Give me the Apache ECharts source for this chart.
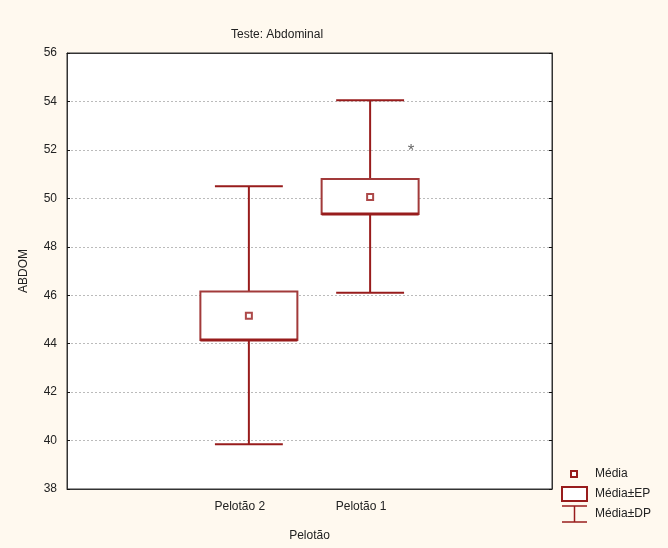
<!DOCTYPE html>
<html>
<head>
<meta charset="utf-8">
<script src="https://cdn.jsdelivr.net/npm/echarts@6/dist/echarts.min.js"></script>
<style>
  html, body { margin: 0; padding: 0; background: #fff9ef; }
  #chart { width: 668px; height: 548px; }
</style>
</head>
<body>
<div id="chart"></div>
<script>
  // categories (empty slots on the sides, like the original frame)
  var categories = ['', 'Pelotão 2', 'Pelotão 1', ''];
  var groups = ['Pelotão 2', 'Pelotão 1'];
  var means = [45.15, 50.05];
  var epLow = [44.15, 49.35];
  var epHigh = [46.15, 50.8];
  var dpLow = [39.85, 46.1];
  var dpHigh = [50.5, 54.05];
  var outlier = [['Pelotão 1', 52.15]];

  var red = '#981c1c';

  var boxData = groups.map(function (g, i) {
    return [g, epLow[i], epHigh[i], dpLow[i], dpHigh[i]];
  });
  var meanData = groups.map(function (g, i) { return [g, means[i]]; });

  var chart = echarts.init(document.getElementById('chart'));

  var tickStyle = { show: true, inside: true, length: 3, lineStyle: { color: '#111' } };

  chart.setOption({
    backgroundColor: '#fff9ef',
    textStyle: { fontFamily: 'Liberation Sans, Arial, sans-serif' },
    animation: false,
    title: {
      text: 'Teste: Abdominal',
      left: 226,
      top: 24,
      textStyle: { fontSize: 12, fontWeight: 'normal', color: '#222' }
    },
    grid: {
      left: 67, right: 116, top: 53, bottom: 59,
      show: true, backgroundColor: '#ffffff', borderColor: '#333', borderWidth: 1
    },
    xAxis: [{
      type: 'category',
      data: categories,
      boundaryGap: true,
      name: 'Pelotão',
      nameLocation: 'middle',
      nameGap: 41,
      nameTextStyle: { fontSize: 12, color: '#222' },
      axisLine: { lineStyle: { color: '#333' } },
      axisTick: { alignWithLabel: true, inside: true, interval: 0, length: 4, lineStyle: { color: '#111' } },
      axisLabel: { fontSize: 12, color: '#222', margin: 12, interval: 0, padding: [0, 18, 0, 0] },
      splitLine: { show: false }
    }, {
      type: 'category',
      data: categories,
      position: 'top',
      boundaryGap: true,
      axisLine: { lineStyle: { color: '#333' } },
      axisTick: { alignWithLabel: true, inside: true, interval: 0, length: 4, lineStyle: { color: '#111' } },
      axisLabel: { show: false }
    }],
    yAxis: [{
      type: 'value',
      min: 38,
      max: 56,
      interval: 2,
      name: 'ABDOM',
      nameLocation: 'middle',
      nameGap: 37,
      nameTextStyle: { fontSize: 12, color: '#222' },
      axisLine: { show: true, lineStyle: { color: '#333' } },
      axisTick: tickStyle,
      axisLabel: { fontSize: 12, color: '#222', margin: 10 },
      splitLine: { show: true, lineStyle: { color: '#bbbbbb', type: [2, 2], width: 1 } }
    }, {
      type: 'value',
      min: 38,
      max: 56,
      interval: 2,
      position: 'right',
      axisLine: { show: true, lineStyle: { color: '#333' } },
      axisTick: tickStyle,
      axisLabel: { show: false },
      splitLine: { show: false }
    }],
    series: [{
      name: 'box',
      type: 'custom',
      data: boxData,
      encode: { x: 0, y: [1, 2, 3, 4] },
      renderItem: function (params, api) {
        var x = api.value(0);
        var band = api.size([1, 0])[0];
        var boxW = band * 0.8;
        var capW = band * 0.56;
        var lo = api.coord([x, api.value(1)]);
        var hi = api.coord([x, api.value(2)]);
        var dlo = api.coord([x, api.value(3)]);
        var dhi = api.coord([x, api.value(4)]);
        var cx = lo[0];
        var ls = { stroke: red, lineWidth: 2 };
        return {
          type: 'group',
          children: [
            { type: 'line', shape: { x1: cx, y1: hi[1], x2: cx, y2: dhi[1] }, style: ls },
            { type: 'line', shape: { x1: cx, y1: lo[1], x2: cx, y2: dlo[1] }, style: ls },
            { type: 'line', shape: { x1: cx - capW / 2, y1: dhi[1], x2: cx + capW / 2, y2: dhi[1] }, style: ls },
            { type: 'line', shape: { x1: cx - capW / 2, y1: dlo[1], x2: cx + capW / 2, y2: dlo[1] }, style: ls },
            { type: 'rect', shape: { x: cx - boxW / 2, y: hi[1], width: boxW, height: lo[1] - hi[1] },
              style: { fill: '#ffffff', stroke: '#a23a3a', lineWidth: 2 } },
            { type: 'line', shape: { x1: cx - boxW / 2, y1: lo[1], x2: cx + boxW / 2, y2: lo[1] },
              style: { stroke: red, lineWidth: 3 } }
          ]
        };
      }
    }, {
      name: 'Média',
      type: 'scatter',
      data: meanData,
      symbol: 'rect',
      symbolSize: 6,
      itemStyle: { color: '#ffffff', borderColor: red, borderWidth: 2 },
      z: 5
    }, {
      name: 'outlier',
      type: 'scatter',
      data: outlier,
      symbolSize: 0,
      label: {
        show: true, formatter: '*', offset: [41, 5],
        fontSize: 17, color: '#444'
      }
    }],
    graphic: [
      { type: 'rect', shape: { x: 571, y: 471, width: 6, height: 6 }, style: { fill: '#fff', stroke: red, lineWidth: 2 } },
      { type: 'text', x: 595, y: 474, style: { text: 'Média', fontSize: 12, fill: '#222', verticalAlign: 'middle', fontFamily: 'Liberation Sans, Arial' } },
      { type: 'rect', shape: { x: 562, y: 487, width: 25, height: 14 }, style: { fill: '#fff', stroke: red, lineWidth: 2 } },
      { type: 'text', x: 595, y: 494, style: { text: 'Média±EP', fontSize: 12, fill: '#222', verticalAlign: 'middle', fontFamily: 'Liberation Sans, Arial' } },
      { type: 'line', shape: { x1: 562, y1: 506, x2: 587, y2: 506 }, style: { stroke: red, lineWidth: 1.5 } },
      { type: 'line', shape: { x1: 574.5, y1: 506, x2: 574.5, y2: 522 }, style: { stroke: red, lineWidth: 1.5 } },
      { type: 'line', shape: { x1: 562, y1: 522, x2: 587, y2: 522 }, style: { stroke: red, lineWidth: 1.5 } },
      { type: 'text', x: 595, y: 514, style: { text: 'Média±DP', fontSize: 12, fill: '#222', verticalAlign: 'middle', fontFamily: 'Liberation Sans, Arial' } }
    ]
  });
</script>
</body>
</html>
